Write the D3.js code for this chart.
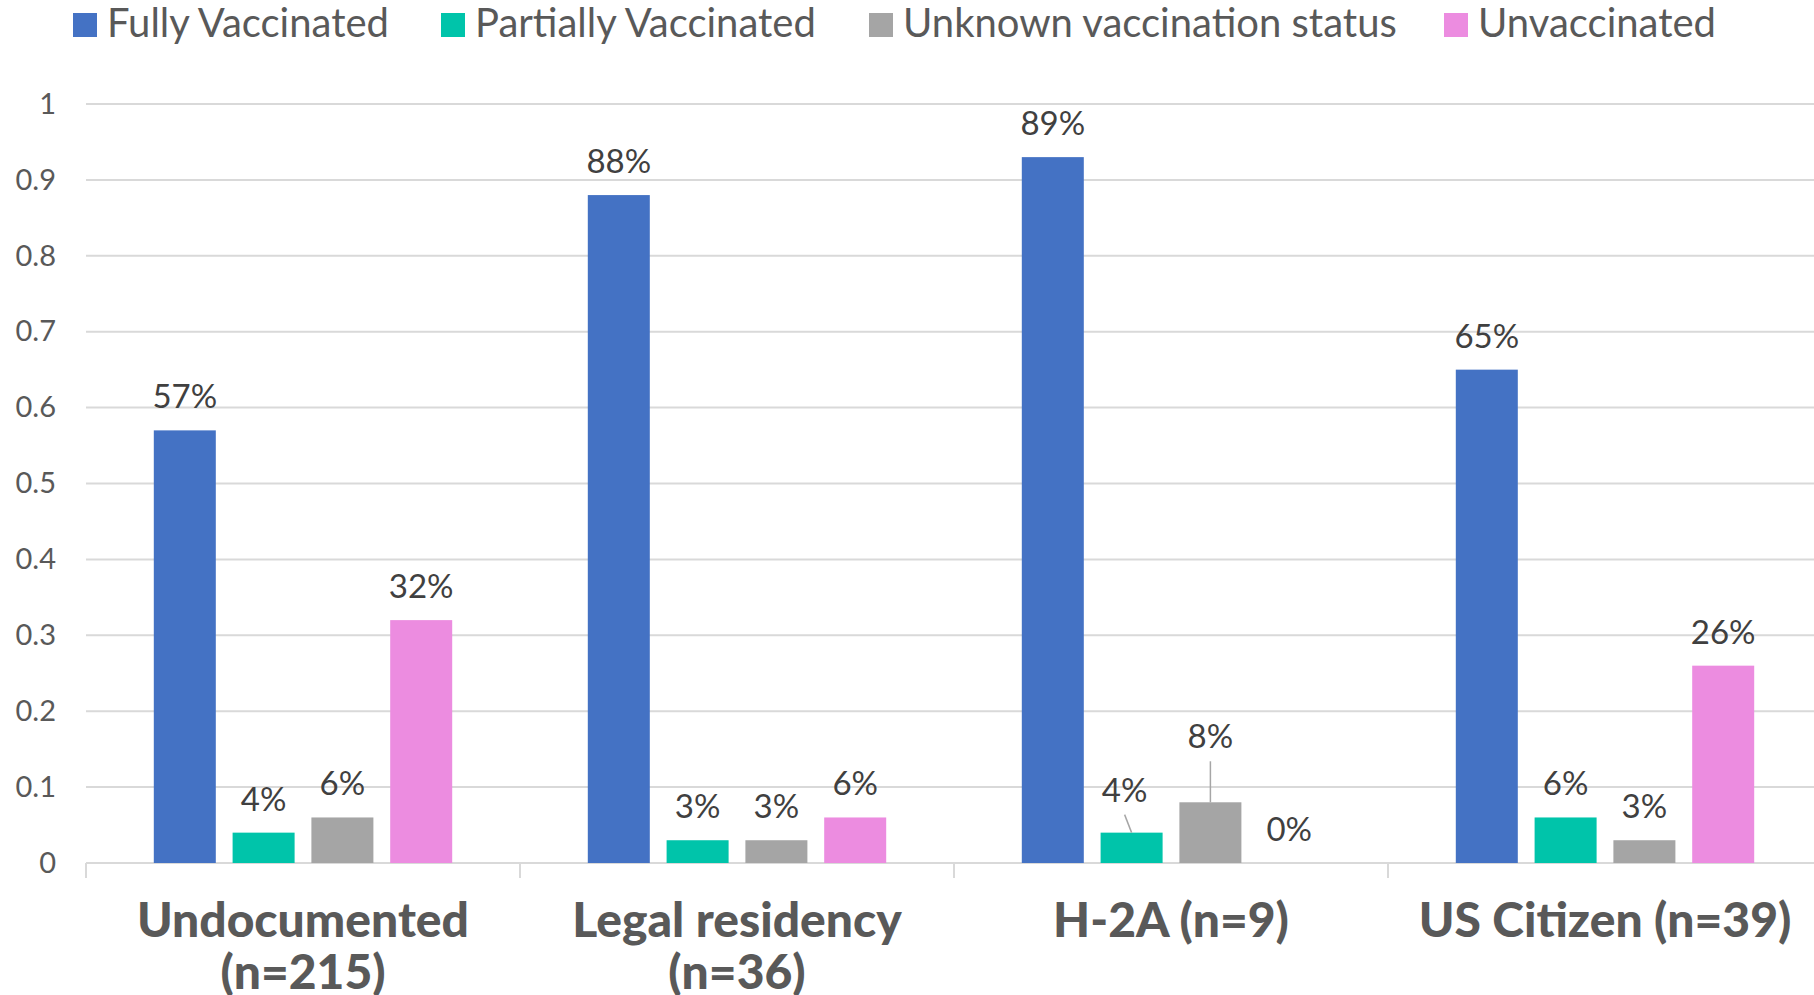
<!DOCTYPE html>
<html>
<head>
<meta charset="utf-8">
<script src="https://cdn.jsdelivr.net/npm/d3@7"></script>
<style>
  body { margin: 0; background: #fff; }
  svg { display: block; font-family: Lato, "Open Sans", sans-serif; }
</style>
</head>
<body>
<svg id="chart" width="1814" height="995"></svg>
<script>
// categories (second line is wrapped like in the original)
var categories = ["Undocumented (n=215)", "Legal residency (n=36)", "H-2A (n=9)", "US Citizen (n=39)"];
var categoryLines = [["Undocumented", "(n=215)"], ["Legal residency", "(n=36)"], ["H-2A (n=9)"], ["US Citizen (n=39)"]];

var seriesNames = ["Fully Vaccinated", "Partially Vaccinated", "Unknown vaccination status", "Unvaccinated"];
var seriesColors = ["#4472c4", "#00c4aa", "#a5a5a5", "#ec8ce0"];

// bar heights as drawn
var fullyVaccinated = [0.57, 0.88, 0.93, 0.65];
var partiallyVaccinated = [0.04, 0.03, 0.04, 0.06];
var unknownStatus = [0.06, 0.03, 0.08, 0.03];
var unvaccinated = [0.32, 0.06, 0, 0.26];

// data labels as printed (H-2A full is labelled 89%)
var fullyLabels = ["57%", "88%", "89%", "65%"];
var partialLabels = ["4%", "3%", "4%", "6%"];
var unknownLabels = ["6%", "3%", "8%", "3%"];
var unvaccLabels = ["32%", "6%", "0%", "26%"];

var yTicks = [0, 0.1, 0.2, 0.3, 0.4, 0.5, 0.6, 0.7, 0.8, 0.9, 1];

var allValues = [fullyVaccinated, partiallyVaccinated, unknownStatus, unvaccinated];
var allLabels = [fullyLabels, partialLabels, unknownLabels, unvaccLabels];

// labels that were dragged away from their bar (with a leader line)
var moved = {
    "2-1": {dx: -7, dy: -9},
    "2-2": {dx: 0, dy: -32}
};

var svg = d3.select("#chart");
var plotLeft = 86, plotTop = 104, plotBottom = 863;
var bandW = 434;

var x0 = d3.scaleBand()
    .domain(categories)
    .range([plotLeft, plotLeft + bandW * categories.length])
    .padding(0);

var x1 = d3.scaleBand()
    .domain(seriesNames)
    .range([67.8, bandW - 67.8])
    .paddingInner(16.8 / 78.8)
    .paddingOuter(0);

var y = d3.scaleLinear().domain([0, 1]).range([plotBottom, plotTop]);

// gridlines
svg.append("g")
    .selectAll("line")
    .data(yTicks.slice(1))
    .enter().append("line")
    .attr("x1", plotLeft)
    .attr("x2", 1814)
    .attr("y1", function(d) { return y(d); })
    .attr("y2", function(d) { return y(d); })
    .attr("stroke", "#d9d9d9")
    .attr("stroke-width", 2);

// y axis labels
var yAxis = d3.axisLeft(y).tickValues(yTicks).tickSize(0).tickPadding(0)
    .tickFormat(function(d) { return String(+d.toFixed(1)); });
var yg = svg.append("g").attr("transform", "translate(56,0)").call(yAxis);
yg.select(".domain").remove();
yg.selectAll("text")
    .attr("fill", "#595959")
    .style("font-size", "29px")
    .style("font-family", "Lato");

// category axis line
var xAxis = d3.axisBottom(x0).tickSize(0).tickFormat("");
var xg = svg.append("g").attr("transform", "translate(0," + plotBottom + ")").call(xAxis);
xg.select(".domain").attr("stroke", "#d9d9d9").attr("stroke-width", 2)
    .attr("d", "M" + plotLeft + ",0H1814");
xg.selectAll(".tick").remove();

// boundary ticks
var bounds = categories.map(function(c) { return x0(c); });
svg.append("g")
    .selectAll("line")
    .data(bounds)
    .enter().append("line")
    .attr("x1", function(d) { return d; })
    .attr("x2", function(d) { return d; })
    .attr("y1", plotBottom)
    .attr("y2", plotBottom + 15)
    .attr("stroke", "#d9d9d9")
    .attr("stroke-width", 2);

// category labels
var catG = svg.append("g");
categories.forEach(function(c, i) {
    var cx = x0(c) + x0.bandwidth() / 2;
    var t = catG.append("text")
        .attr("x", cx)
        .attr("y", 937)
        .attr("text-anchor", "middle")
        .attr("fill", "#595959")
        .style("font-size", "48px")
        .style("font-weight", "900");
    categoryLines[i].forEach(function(line, k) {
        t.append("tspan")
            .attr("x", cx)
            .attr("dy", k == 0 ? 0 : 52)
            .text(line);
    });
});

// bars
seriesNames.forEach(function(s, si) {
    var g = svg.append("g");
    g.selectAll("rect")
        .data(allValues[si])
        .enter().append("rect")
        .attr("x", function(d, i) { return x0(categories[i]) + x1(s); })
        .attr("y", function(d) { return y(d); })
        .attr("width", x1.bandwidth())
        .attr("height", function(d) { return plotBottom - y(d); })
        .attr("fill", seriesColors[si]);
});

// data labels
seriesNames.forEach(function(s, si) {
    allValues[si].forEach(function(v, i) {
        var cx = x0(categories[i]) + x1(s) + x1.bandwidth() / 2;
        var by = y(v);
        var m = moved[i + "-" + si] || {dx: 0, dy: 0};
        var lx = cx + m.dx, ly = by - 22 + m.dy;
        if (m.dy != 0) {
            svg.append("line")
                .attr("x1", lx).attr("y1", ly + 13)
                .attr("x2", cx).attr("y2", by)
                .attr("stroke", "#a6a6a6")
                .attr("stroke-width", 1.5);
        }
        svg.append("text")
            .attr("x", lx)
            .attr("y", ly)
            .attr("text-anchor", "middle")
            .attr("fill", "#404040")
            .style("font-size", "33px")
            .text(allLabels[si][i]);
    });
});

// legend
var legendX = [73, 441, 869, 1444];
var lg = svg.append("g");
seriesNames.forEach(function(s, si) {
    lg.append("rect")
        .attr("x", legendX[si])
        .attr("y", 13)
        .attr("width", 24)
        .attr("height", 24)
        .attr("fill", seriesColors[si]);
    lg.append("text")
        .attr("x", legendX[si] + 34)
        .attr("y", 37)
        .attr("fill", "#595959")
        .style("font-size", "40px")
        .text(s);
});
</script>
</body>
</html>
